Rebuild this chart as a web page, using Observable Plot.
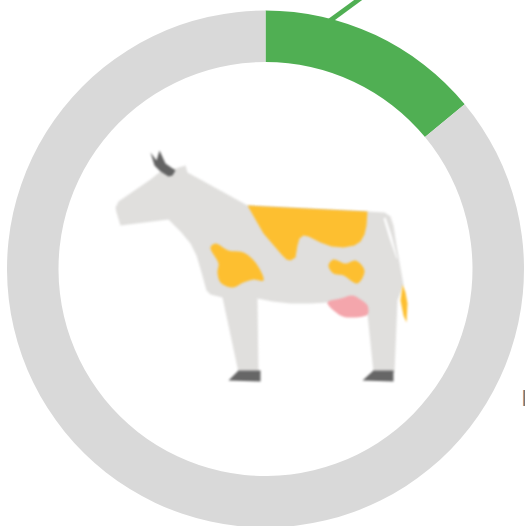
<!DOCTYPE html>
<html>
<head>
<meta charset="utf-8">
<script src="https://cdn.jsdelivr.net/npm/d3@7"></script>
<script src="https://cdn.jsdelivr.net/npm/@observablehq/plot@0.6"></script>
<style>html,body{margin:0;padding:0;background:#fff;overflow:hidden}svg{display:block;overflow:hidden}</style>
</head>
<body>
<div id="chart"></div>
<script>
const shares = [14, 86];
const shareColors = ["#50AF53", "#D9D9D9"];
const leader = [{x1: 327, y1: 22, x2: 372, y2: -11}];
const clippedLabel = ["E"];

// Pictogram outlines
const cowBody = [[115,207],[116,212],[120,225],[168,219],[180,231],[190,243],[196,255],[201,272],[206,290],[210,294],[222,297],[238,372],[258,372],[257,298],[272,301],[290,303],[310,303],[327,302],[345,308],[367,314],[373,372],[394,372],[397,300],[403,284],[396,245],[393,225],[390,216],[384,212],[367,211],[247,205],[187,172],[185,165],[175,168],[160,171],[150,179],[118,201]];
const spotTop = [[247,205],[367,211],[366,225],[364,234],[360,241],[354,245],[343,247],[331,246],[320,242],[308,236],[303,235],[299,238],[297,245],[295,257],[290,260],[286,259],[281,254],[263,233]];
const spotSide = [[210,247],[215,243],[228,250],[243,252],[255,262],[263,280],[253,279],[243,282],[232,287],[220,282],[217,272],[218,263]];
const spotRear = [[328,265],[333,259],[345,263],[355,260],[364,270],[357,283],[343,275],[333,273]];
const udder = [[327,302],[340,298],[352,295],[360,299],[367,305],[367,314],[350,317],[340,315]];
const tailGap = [[383,218],[385,217],[391,235],[397,258],[396,258],[389,238]];
const tailTip = [[402,284],[405,292],[407,303],[406,322],[403,315],[400,300]];
const horns = [[150,152],[156,160],[159,150],[165,163],[175,170],[172,175],[168,176],[160,171],[154,165]];
const hoofFront = [[228,380],[238,370],[260,370],[260,381]];
const hoofRear = [[362,380],[373,370],[393,370],[393,381]];

const curved = "catmull-rom-closed";
const shape = (pts, fill, curve = "linear-closed") =>
  Plot.line(pts, {x: d => d[0], y: d => d[1], fill, stroke: "none", curve, imageFilter: "blur(1px)"});

const cx = 265.5, cy = 269, rOuter = 258.5, rInner = 207;

const ring = (index, scales) => {
  const g = d3.create("svg:g").attr("transform", `translate(${scales.x(cx)},${scales.y(cy)})`);
  const pie = d3.pie().sort(null)(shares);
  const arc = d3.arc().innerRadius(rInner).outerRadius(rOuter);
  g.selectAll("path").data(pie).join("path").attr("d", arc).attr("fill", (d, i) => shareColors[i]);
  return g.node();
};

const plot = Plot.plot({
  width: 525,
  height: 526,
  margin: 0,
  x: {domain: [0, 525], range: [0, 525], axis: null},
  y: {domain: [0, 526], range: [0, 526], axis: null},
  marks: [
    Plot.link(leader, {x1: "x1", y1: "y1", x2: "x2", y2: "y2", stroke: shareColors[0], strokeWidth: 4.7}),
    ring,
    shape(cowBody, "#E0DFDD"),
    shape(spotTop, "#FDBF30"),
    shape(spotSide, "#FDBF30", curved),
    shape(spotRear, "#FDBF30", curved),
    shape(udder, "#F4A6AC", curved),
    shape(tailGap, "#FFFFFF"),
    shape(tailTip, "#FDBF30"),
    shape(horns, "#636363"),
    shape(hoofFront, "#666666"),
    shape(hoofRear, "#666666"),
    Plot.text(clippedLabel, {x: () => 521, y: () => 398.5, text: d => d, textAnchor: "start", fontSize: 22, fontFamily: "Roboto, sans-serif", fill: "#777777"})
  ]
});
document.getElementById("chart").append(plot);
</script>
</body>
</html>
